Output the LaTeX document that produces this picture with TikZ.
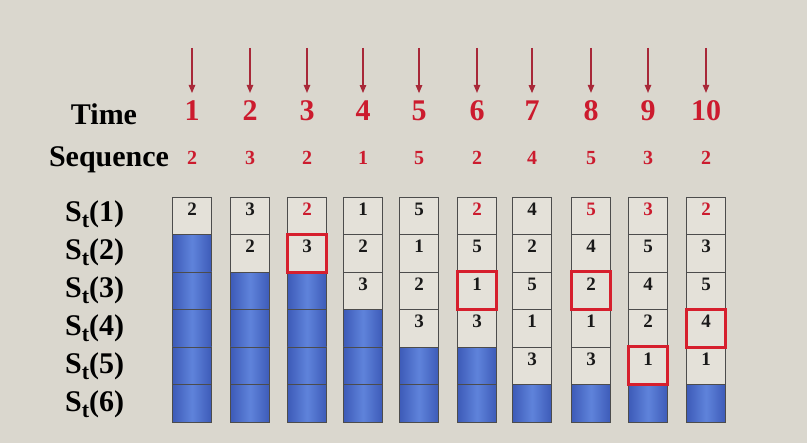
\documentclass[tikz,border=0pt]{standalone}
\usepackage{fontspec}
\setmainfont{Liberation Serif}
\usetikzlibrary{arrows.meta}

\definecolor{bg}{HTML}{DAD7CE}
\definecolor{darkred}{HTML}{A82838}
\definecolor{numred}{HTML}{CC1B2E}
\definecolor{boxred}{HTML}{D61F2D}
\definecolor{paper}{HTML}{E4E1D9}
\definecolor{blueedge}{HTML}{3D5BB8}
\definecolor{bluemid}{HTML}{5F83DB}
\newcommand{\rd}[1]{\textcolor{numred}{#1}}

\tikzset{
  big/.style={font=\fontsize{30}{30}\selectfont\bfseries},
  timenum/.style={big, text=numred, anchor=base, inner sep=0pt},
  seqnum/.style={font=\fontsize{20}{20}\selectfont\bfseries, text=numred, anchor=base, inner sep=0pt},
  tick/.style={draw=darkred, line width=1.1pt, -{Triangle[length=8pt,width=6.5pt]}, shorten >=8pt},
  bluecell/.style={draw=black!70, line width=0.7pt, left color=blueedge, right color=blueedge,
    middle color=bluemid, minimum width=39pt, minimum height=37.5pt, inner sep=0pt},
  numcell/.style={draw=black!70, line width=0.7pt, fill=paper, minimum width=39pt,
    minimum height=37.5pt, inner sep=0pt, text height=10pt, text depth=11pt,
    text=black!90, font=\fontsize{19}{19}\selectfont\bfseries},
  redbox/.style={draw=boxred, line width=2.8pt}
}

\begin{document}
\begin{tikzpicture}[x=1pt,y=-1pt]
  \fill[bg] (0,0) rectangle (807,443);
  \useasboundingbox (0,0) rectangle (807,443);

  % row headings
  \node[big, anchor=base] (time) at (104,125) {Time};
  \node[big, anchor=base] (seq) at (109,167) {Sequence};
  \foreach \j in {1,...,6}
    \node[big, anchor=base west, inner sep=0pt] (s-\j) at (65,{222+38*(\j-1)})
      {S\raisebox{-6pt}{\fontsize{22}{22}\selectfont t}(\j)};

  % one column per time step: number, sequence value, first empty row, stack
  \foreach \i/\x/\s/\n/\cells in {1/192/2/2/{2}, 2/250/3/3/{3,2}, 3/307/2/3/{\rd{2},3},
      4/363/1/4/{1,2,3}, 5/419/5/5/{5,1,2,3}, 6/477/2/5/{\rd{2},5,1,3},
      7/532/4/6/{4,2,5,1,3}, 8/591/5/6/{\rd{5},4,2,1,3}, 9/648/3/6/{\rd{3},5,4,2,1},
      10/706/2/6/{\rd{2},3,5,4,1}} {
    \coordinate (a-\i) at (\x,48);
    \node[timenum] (t-\i) at (\x,121) {\i};
    \node[seqnum] (q-\i) at (\x,165) {\s};
    \draw[tick] (a-\i) -- (t-\i);
    \foreach \j in {\n,...,6}
      \node[bluecell] (b-\i-\j) at (\x,{215.75+37.5*(\j-1)}) {};
    \foreach \v [count=\j] in \cells
      \node[numcell] (c-\i-\j) at (\x,{215.75+37.5*(\j-1)}) {\v};
  }

  % highlighted entries
  \foreach \n in {3-2,6-3,8-3,9-5,10-4}
    \draw[redbox] (c-\n.north west) rectangle (c-\n.south east);
\end{tikzpicture}
\end{document}
